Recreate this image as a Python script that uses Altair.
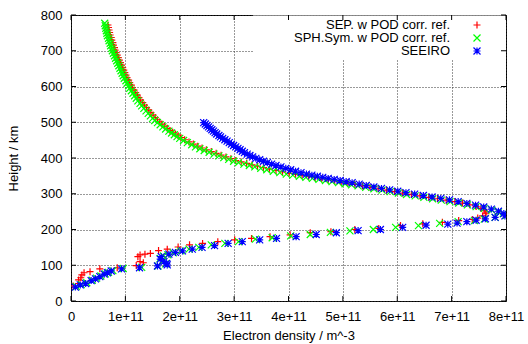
import altair as alt
import pandas as pd

FONT = "Liberation Sans"
FS = 13

series_names = ["SEP. w POD corr. ref.", "SPH.Sym. w POD corr. ref.", "SEEIRO"]
series_colors = ["#ff0000", "#00ff00", "#0000ff"]
series_shapes = [
    "M-1,0L1,0M0,-1L0,1",
    "M-1,-1L1,1M-1,1L1,-1",
    "M-1,0L1,0M0,-1L0,1M-1,-1L1,1M-1,1L1,-1",
]

x_ticks = [0, 1, 2, 3, 4, 5, 6, 7, 8]          # electron density, units of 1e11 m^-3
y_ticks = [0, 100, 200, 300, 400, 500, 600, 700, 800]

# ---- SEP. w POD corr. ref. (red) : height km, Ne (1e11 m^-3)
sep_h = [772, 765, 758, 751, 744, 737, 730, 723, 716, 709, 702, 695, 688, 681, 674, 667, 660, 653, 646, 639,
         632, 625, 618, 611, 604, 597, 590, 583, 576, 569, 562, 555, 548, 541, 534, 527, 520, 513, 507, 501,
         495, 489, 483, 477, 472, 467, 462, 457, 451, 445, 439, 433, 428, 423, 418, 413, 408, 403, 398, 393,
         389, 385, 381, 377, 373, 369, 365, 361, 357, 354, 351, 348, 345, 342, 339, 336, 333, 330, 326, 322,
         318, 314, 310, 306, 302, 298, 294, 290, 286, 282, 278, 274, 269, 264, 259, 254, 249, 244,
         238, 232, 228, 225, 220, 216, 211, 203, 200, 194, 191, 185, 180, 175, 171, 166, 161, 157, 151, 145,
         141, 133, 131, 129, 124, 110, 107, 99, 93, 90, 82, 79, 73, 65, 59, 49, 42]
sep_ne = [0.68, 0.69, 0.70, 0.71, 0.72, 0.74, 0.75, 0.77, 0.78, 0.80, 0.81, 0.83, 0.85, 0.87, 0.89, 0.91, 0.93, 0.95, 0.97, 0.99,
          1.01, 1.03, 1.06, 1.08, 1.11, 1.13, 1.16, 1.19, 1.22, 1.25, 1.28, 1.32, 1.35, 1.39, 1.43, 1.47, 1.51, 1.55, 1.59, 1.63,
          1.67, 1.72, 1.77, 1.82, 1.87, 1.92, 1.97, 2.02, 2.09, 2.17, 2.25, 2.33, 2.41, 2.49, 2.58, 2.67, 2.76, 2.85, 2.94, 3.03,
          3.13, 3.23, 3.33, 3.43, 3.54, 3.65, 3.77, 3.89, 4.01, 4.13, 4.25, 4.37, 4.49, 4.61, 4.73, 4.85, 4.97, 5.09, 5.22, 5.36,
          5.50, 5.65, 5.80, 5.95, 6.10, 6.26, 6.42, 6.58, 6.74, 6.90, 7.06, 7.20, 7.33, 7.45, 7.54, 7.60, 7.63, 7.63,
          7.57, 7.48, 7.38, 7.13, 6.83, 6.47, 6.06, 5.66, 5.22, 4.78, 4.40, 4.03, 3.66, 3.32, 3.01, 2.70, 2.42, 2.18, 1.97, 1.77,
          1.61, 1.46, 1.36, 1.27, 1.23, 1.27, 1.33, 1.20, 0.85, 0.53, 0.35, 0.24, 0.20, 0.18, 0.14, 0.14, 0.04]

# ---- SPH.Sym. w POD corr. ref. (green)
sph_h = [777, 770, 763, 756, 749, 742, 735, 728, 721, 714, 707, 700, 693, 686, 679, 672, 665, 658, 651, 644,
         637, 630, 623, 616, 609, 602, 595, 588, 581, 574, 567, 560, 553, 546, 539, 532, 525, 518, 511, 505,
         499, 493, 487, 481, 475, 470, 465, 460, 455, 449, 443, 437, 431, 426, 421, 416, 411, 406, 401, 396,
         391, 387, 383, 379, 375, 371, 367, 363, 359, 355, 352, 349, 346, 343, 340, 337, 334, 331, 328, 325,
         322, 318, 314, 310, 306, 302, 298, 294, 290, 286, 282, 278, 274, 269, 264, 259, 254, 249, 244, 239,
         234, 229, 225, 222, 217, 211, 206, 200, 196, 192, 186, 182, 177, 173, 166, 161, 157, 150, 145, 140,
         135, 129, 126, 119, 112, 104, 98, 94, 91, 85, 80, 76, 70, 64, 58, 51, 46, 40]
sph_ne = [0.62, 0.63, 0.64, 0.65, 0.66, 0.67, 0.69, 0.70, 0.72, 0.73, 0.75, 0.76, 0.78, 0.80, 0.82, 0.84, 0.86, 0.88, 0.90, 0.92,
          0.94, 0.96, 0.98, 1.01, 1.03, 1.06, 1.08, 1.11, 1.14, 1.17, 1.20, 1.23, 1.27, 1.30, 1.34, 1.38, 1.42, 1.46, 1.50, 1.54,
          1.59, 1.64, 1.69, 1.74, 1.80, 1.85, 1.90, 1.95, 2.00, 2.07, 2.14, 2.22, 2.29, 2.37, 2.45, 2.54, 2.63, 2.72, 2.81, 2.90,
          2.99, 3.08, 3.18, 3.28, 3.38, 3.49, 3.60, 3.72, 3.84, 3.96, 4.08, 4.20, 4.32, 4.44, 4.56, 4.68, 4.80, 4.92, 5.04, 5.16,
          5.28, 5.42, 5.57, 5.72, 5.87, 6.02, 6.17, 6.33, 6.49, 6.65, 6.81, 6.97, 7.13, 7.29, 7.45, 7.60, 7.74, 7.86, 7.95, 8.00,
          7.80, 7.60, 7.42, 7.12, 6.78, 6.39, 5.97, 5.56, 5.13, 4.77, 4.40, 4.04, 3.70, 3.39, 3.08, 2.83, 2.58, 2.35, 2.17, 2.02,
          1.88, 1.78, 1.70, 1.64, 1.69, 1.74, 1.60, 1.30, 0.96, 0.77, 0.69, 0.63, 0.55, 0.47, 0.39, 0.29, 0.19, 0.10]

# ---- SEEIRO (blue)
see_h = [499, 495, 491, 487, 483, 479, 475, 471, 467, 463, 459, 455, 451, 447, 443, 439, 435, 431, 427, 423,
         419, 415, 411, 407, 403, 399, 395, 391, 387, 383, 379, 375, 371, 367, 363, 359, 355, 352, 349, 346,
         343, 340, 337, 334, 331, 327, 323, 319, 315, 311, 307, 303, 299, 295, 291, 287, 283, 278, 273, 268,
         263, 257, 251, 245,
         238, 234, 230, 226, 222, 218, 215, 212, 206, 200, 197, 191, 186, 180, 175, 171, 166, 161, 155, 150,
         145, 140, 136, 131, 124, 117, 110, 105, 101, 98, 93, 90, 84, 79, 75, 68, 62, 57, 49, 45, 39]
see_ne = [2.44, 2.47, 2.50, 2.53, 2.56, 2.59, 2.62, 2.65, 2.68, 2.72, 2.75, 2.79, 2.83, 2.87, 2.91, 2.95, 2.99, 3.03, 3.07, 3.11,
          3.15, 3.19, 3.24, 3.29, 3.34, 3.40, 3.47, 3.54, 3.61, 3.69, 3.77, 3.86, 3.95, 4.04, 4.13, 4.23, 4.33, 4.43, 4.53, 4.63,
          4.73, 4.84, 4.95, 5.06, 5.17, 5.30, 5.43, 5.57, 5.71, 5.86, 6.01, 6.16, 6.32, 6.48, 6.64, 6.80, 6.96, 7.12, 7.28, 7.44,
          7.59, 7.73, 7.86, 7.96,
          7.98, 7.80, 7.62, 7.45, 7.28, 7.10, 6.93, 6.53, 6.10, 5.69, 5.28, 4.88, 4.51, 4.14, 3.78, 3.47, 3.15, 2.89, 2.64, 2.41,
          2.23, 2.05, 1.92, 1.80, 1.66, 1.64, 1.71, 1.76, 1.77, 1.59, 1.26, 0.93, 0.74, 0.67, 0.61, 0.53, 0.45, 0.37, 0.27, 0.17, 0.08]

rows = []
for name, hs, nes in [(series_names[0], sep_h, sep_ne), (series_names[1], sph_h, sph_ne), (series_names[2], see_h, see_ne)]:
    for h, ne in zip(hs, nes):
        rows.append({"series": name, "h": h, "ne": ne})
df = pd.DataFrame(rows)
df["idx"] = range(len(df))

W, H = 435, 286
MSIZE = 49
MSW = 1.2

x_axis = alt.Axis(values=x_ticks, labelExpr="datum.value == 0 ? '0' : datum.value + 'e+11'",
                  ticks=False, domain=False, grid=True, gridDash=[1, 2], gridColor="#333",
                  labelFont=FONT, labelFontSize=FS, labelColor="black", labelPadding=9,
                  labelFlush=False, labelOverlap=False,
                  title="Electron density / m^-3", titleFont=FONT, titleFontSize=FS,
                  titleFontWeight="normal", titleColor="black", titlePadding=6)
y_axis = alt.Axis(values=y_ticks, ticks=False, domain=False, grid=True, gridDash=[1, 2], gridColor="#333",
                  labelFont=FONT, labelFontSize=FS, labelColor="black", labelPadding=9,
                  labelFlush=False, labelOverlap=False,
                  title="Height / km", titleFont=FONT, titleFontSize=FS,
                  titleFontWeight="normal", titleColor="black", titlePadding=20)

xs = alt.Scale(domain=[0, 8], nice=False, zero=False)
ys = alt.Scale(domain=[0, 800], nice=False, zero=False)

points = alt.Chart(df).mark_point(filled=False, strokeWidth=MSW, size=MSIZE, clip=True, opacity=1).encode(
    x=alt.X("ne:Q", scale=xs, axis=x_axis),
    y=alt.Y("h:Q", scale=ys, axis=y_axis),
    color=alt.Color("series:N", scale=alt.Scale(domain=series_names, range=series_colors), legend=None),
    shape=alt.Shape("series:N", scale=alt.Scale(domain=series_names, range=series_shapes), legend=None),
    order=alt.Order("idx:Q"),
)

box = alt.Chart(pd.DataFrame({"a": [0]})).mark_rect(color="white").encode(
    x=alt.value(182), x2=alt.value(434.5), y=alt.value(0.5), y2=alt.value(44))

xt = pd.DataFrame({"ne": x_ticks})
yt = pd.DataFrame({"h": y_ticks})
tick_x = alt.X("ne:Q", scale=xs, axis=x_axis)
tick_y = alt.Y("h:Q", scale=ys, axis=y_axis)
bottom_ticks = alt.Chart(xt).mark_rule(color="black", strokeWidth=1).encode(x=tick_x, y=alt.value(H), y2=alt.value(H - 5))
top_ticks = alt.Chart(xt).mark_rule(color="black", strokeWidth=1).encode(x=tick_x, y=alt.value(0), y2=alt.value(5))
left_ticks = alt.Chart(yt).mark_rule(color="black", strokeWidth=1).encode(y=tick_y, x=alt.value(0), x2=alt.value(5))
right_ticks = alt.Chart(yt).mark_rule(color="black", strokeWidth=1).encode(y=tick_y, x=alt.value(W), x2=alt.value(W - 5))

legend_layers = []
for i, (name, col, shp) in enumerate(zip(series_names, series_colors, series_shapes)):
    ld = pd.DataFrame({"label": [name]})
    legend_layers.append(alt.Chart(ld).mark_text(align="right", baseline="middle", font=FONT, fontSize=FS,
                                                 color="black").encode(
        text="label:N", x=alt.value(379), y=alt.value(10 + 13 * i)))
    legend_layers.append(alt.Chart(ld).mark_point(shape=shp, color=col, filled=False, size=MSIZE, strokeWidth=MSW,
                                                  opacity=1).encode(
        x=alt.value(406), y=alt.value(10 + 13 * i)))

chart = alt.layer(points, box, bottom_ticks, top_ticks, left_ticks, right_ticks, *legend_layers).properties(
    width=W, height=H, autosize="none",
    padding={"left": 71, "top": 15, "right": 528 - 71 - W, "bottom": 344 - 15 - H},
    background="white",
).configure_view(stroke="black", strokeWidth=1)

chart.save("out.html", embed_options={"renderer": "svg", "actions": False})
